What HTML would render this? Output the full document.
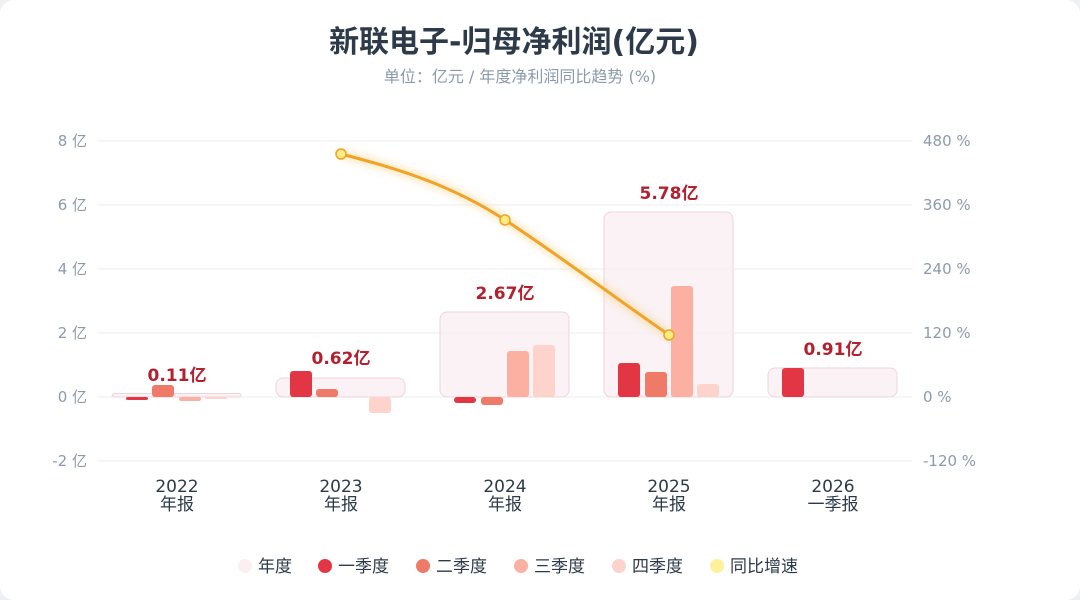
<!DOCTYPE html>
<html><head><meta charset="utf-8"><style>
html,body{margin:0;padding:0;background:#eef0f3;}
.card{position:absolute;left:0;top:0;width:1080px;height:600px;background:#fff;border-radius:14px;overflow:hidden;}
svg text{font-family:"DejaVu Sans","Noto Sans CJK SC",sans-serif;}
</style></head><body><div class="card">
<svg width="1080" height="600" viewBox="0 0 1080 600">
<defs><filter id="glow" x="-20%" y="-20%" width="140%" height="140%"><feGaussianBlur stdDeviation="4"/></filter></defs>
<text x="514" y="52" text-anchor="middle" font-size="30" font-weight="bold" fill="#2d3a4a">新联电子-归母净利润(亿元)</text>
<text x="520" y="82" text-anchor="middle" font-size="16" fill="#8c9aae">单位：亿元 / 年度净利润同比趋势 (%)</text>
<g stroke="#eceef1" stroke-width="1">
<line x1="97" x2="912" y1="141" y2="141"/><line x1="97" x2="912" y1="205" y2="205"/><line x1="97" x2="912" y1="269" y2="269"/><line x1="97" x2="912" y1="333" y2="333"/><line x1="97" x2="912" y1="397" y2="397"/><line x1="97" x2="912" y1="461" y2="461"/>
</g>
<g font-size="15" fill="#8c9aae" text-anchor="end">
<text x="87" y="146">8 亿</text><text x="87" y="210">6 亿</text><text x="87" y="274">4 亿</text><text x="87" y="338">2 亿</text><text x="87" y="402">0 亿</text><text x="87" y="466">-2 亿</text>
</g>
<g font-size="15" fill="#8c9aae">
<text x="923" y="146">480 %</text><text x="923" y="210">360 %</text><text x="923" y="274">240 %</text><text x="923" y="338">120 %</text><text x="923" y="402">0 %</text><text x="923" y="466">-120 %</text>
</g>
<g fill="#f9eff1" fill-opacity="0.8" stroke="#f0d4da" stroke-width="1">
<rect x="112" y="393.5" width="129" height="3.5" rx="3"/>
<rect x="276" y="378" width="129" height="19" rx="7"/>
<rect x="440" y="312" width="129" height="85" rx="7"/>
<rect x="604" y="212" width="129" height="185" rx="7"/>
<rect x="768" y="368" width="129" height="29" rx="7"/>
</g>
<g>
<rect x="126" y="397" width="22" height="3" rx="2" fill="#e33645"/>
<rect x="152" y="385" width="22" height="12" rx="3" fill="#ef7a68"/>
<rect x="179" y="397" width="22" height="4" rx="2" fill="#fbb0a2"/>
<rect x="205" y="397" width="22" height="2" rx="1" fill="#fdd3cb"/>
<rect x="290" y="371" width="22" height="26" rx="3" fill="#e33645"/>
<rect x="316" y="389" width="22" height="8" rx="3" fill="#ef7a68"/>
<rect x="369" y="397" width="22" height="16" rx="3" fill="#fdd3cb"/>
<rect x="454" y="397" width="22" height="6" rx="3" fill="#e33645"/>
<rect x="481" y="397" width="22" height="8" rx="3" fill="#ef7a68"/>
<rect x="507" y="351" width="22" height="46" rx="3" fill="#fbb0a2"/>
<rect x="533" y="345" width="22" height="52" rx="3" fill="#fdd3cb"/>
<rect x="618" y="363" width="22" height="34" rx="3" fill="#e33645"/>
<rect x="645" y="372" width="22" height="25" rx="3" fill="#ef7a68"/>
<rect x="671" y="286" width="22" height="111" rx="3" fill="#fbb0a2"/>
<rect x="697" y="384" width="22" height="13" rx="3" fill="#fdd3cb"/>
<rect x="782" y="368" width="22" height="29" rx="3" fill="#e33645"/>
</g>
<g font-size="17" font-weight="bold" fill="#b5202e" text-anchor="middle">
<text x="177" y="381">0.11亿</text><text x="341" y="364">0.62亿</text><text x="505" y="299">2.67亿</text><text x="669" y="199">5.78亿</text><text x="833" y="355">0.91亿</text>
</g>
<path d="M341,154 C396,168 452,185 505,220 C560,256 614,297 669,335" fill="none" stroke="#f7c66a" stroke-width="7" opacity="0.5" filter="url(#glow)"/>
<path d="M341,154 C396,168 452,185 505,220 C560,256 614,297 669,335" fill="none" stroke="#f0a325" stroke-width="3"/>
<g fill="#fdeb83" stroke="#f0a325" stroke-width="1.5">
<circle cx="341" cy="154" r="5"/><circle cx="505" cy="220" r="5"/><circle cx="669" cy="335" r="5"/>
</g>
<g font-size="17" fill="#2d3a4a" text-anchor="middle">
<text x="177" y="492">2022</text><text x="177" y="510">年报</text>
<text x="341" y="492">2023</text><text x="341" y="510">年报</text>
<text x="505" y="492">2024</text><text x="505" y="510">年报</text>
<text x="669" y="492">2025</text><text x="669" y="510">年报</text>
<text x="833" y="492">2026</text><text x="833" y="510">一季报</text>
</g>
<g font-size="17" fill="#2d3a4a">
<circle cx="245" cy="566" r="7" fill="#fbeff1"/><text x="258" y="572">年度</text>
<circle cx="325" cy="566" r="7" fill="#e33645"/><text x="338" y="572">一季度</text>
<circle cx="423" cy="566" r="7" fill="#ef7a68"/><text x="436" y="572">二季度</text>
<circle cx="521" cy="566" r="7" fill="#fbb0a2"/><text x="534" y="572">三季度</text>
<circle cx="619" cy="566" r="7" fill="#fdd3cb"/><text x="632" y="572">四季度</text>
<circle cx="717" cy="566" r="7" fill="#fdf19a"/><text x="730" y="572">同比增速</text>
</g>
</svg></div></body></html>
